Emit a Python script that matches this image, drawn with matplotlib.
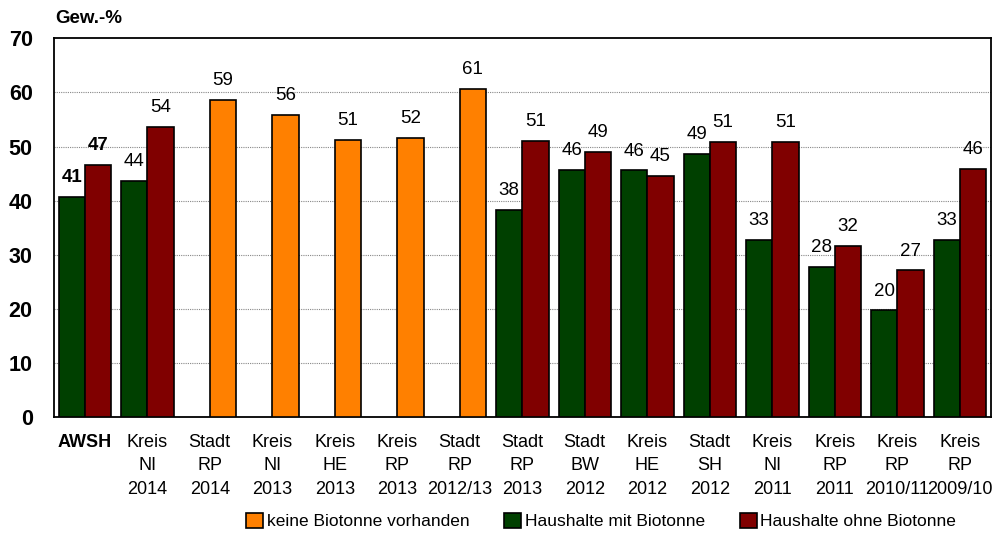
import matplotlib
matplotlib.use("Agg")
import matplotlib.pyplot as plt
import numpy as np

# ---- data ----
categories = ["AWSH", "Kreis\nNI\n2014", "Stadt\nRP\n2014", "Kreis\nNI\n2013", "Kreis\nHE\n2013",
              "Kreis\nRP\n2013", "Stadt\nRP\n2012/13", "Stadt\nRP\n2013", "Stadt\nBW\n2012",
              "Kreis\nHE\n2012", "Stadt\nSH\n2012", "Kreis\nNI\n2011", "Kreis\nRP\n2011",
              "Kreis\nRP\n2010/11", "Kreis\nRP\n2009/10"]
keine = [None, None, 58.6, 55.8, 51.2, 51.6, 60.6, None, None, None, None, None, None, None, None]
mit = [40.7, 43.6, None, None, None, None, None, 38.3, 45.7, 45.6, 48.6, 32.8, 27.8, 19.7, 32.8]
ohne = [46.6, 53.6, None, None, None, None, None, 51.0, 49.0, 44.6, 50.8, 50.8, 31.7, 27.1, 45.9]
series_names = ["keine Biotonne vorhanden", "Haushalte mit Biotonne", "Haushalte ohne Biotonne"]
yticks = [0, 10, 20, 30, 40, 50, 60, 70]

c_orange = "#FF8000"
c_green = "#004000"
c_red = "#800000"

plt.rcParams['font.family'] = ['Liberation Sans', 'DejaVu Sans']

fig = plt.figure(figsize=(10, 5.33), dpi=100)
ax = fig.add_axes([0.0535, 0.2175, 0.9375, 0.7105])

x = np.arange(len(categories))
w = 0.42

def draw(vals, offset, color, label):
    xs = [xi + offset for xi, v in zip(x, vals) if v is not None]
    hs = [v for v in vals if v is not None]
    bars = ax.bar(xs, hs, width=w, align='edge', color=color, edgecolor='black',
                  linewidth=1.2, label=label, zorder=3)
    return bars, xs, hs

b_k, xk, hk = draw(keine, 0.0, c_orange, series_names[0])
b_m, xm, hm = draw(mit, -w, c_green, series_names[1])
b_o, xo, ho = draw(ohne, 0.0, c_red, series_names[2])

for xs, hs in [(xk, hk), (xm, hm), (xo, ho)]:
    for xx, hh in zip(xs, hs):
        bold = xx < 0.5
        ax.text(xx + w / 2, hh + 2.0, f"{round(hh)}", ha='center', va='bottom',
                fontsize=13.5, fontweight='bold' if bold else 'normal', color='black')

ax.set_xlim(-0.5, len(categories) - 0.5)
ax.set_ylim(0, 70)
ax.set_yticks(yticks)
ax.set_yticklabels([str(t) for t in yticks], fontsize=15.5, fontweight='bold')
ax.tick_params(axis='y', length=0, pad=15)
ax.set_xticks(x)
ax.set_xticklabels(categories, fontsize=13, linespacing=1.5)
ax.tick_params(axis='x', length=0, pad=12)
ax.get_xticklabels()[0].set_fontweight('bold')

for yv in yticks[1:-1]:
    ax.axhline(yv, color='#888888', linestyle=(0, (1, 1)), linewidth=0.8, zorder=1)

for s in ax.spines.values():
    s.set_linewidth(1.3)
    s.set_color('black')

fig.text(0.055, 0.965, "Gew.-%", fontsize=13.5, fontweight='bold', ha='left', va='center')

leg = fig.legend(handles=[b_k, b_m, b_o], labels=series_names, loc='center',
                 bbox_to_anchor=(0.601, 0.022), ncol=3, frameon=False, fontsize=12.5,
                 handlelength=1.0, handleheight=0.9, handletextpad=0.2, columnspacing=2.0)

fig.savefig("out.png", dpi=100)
